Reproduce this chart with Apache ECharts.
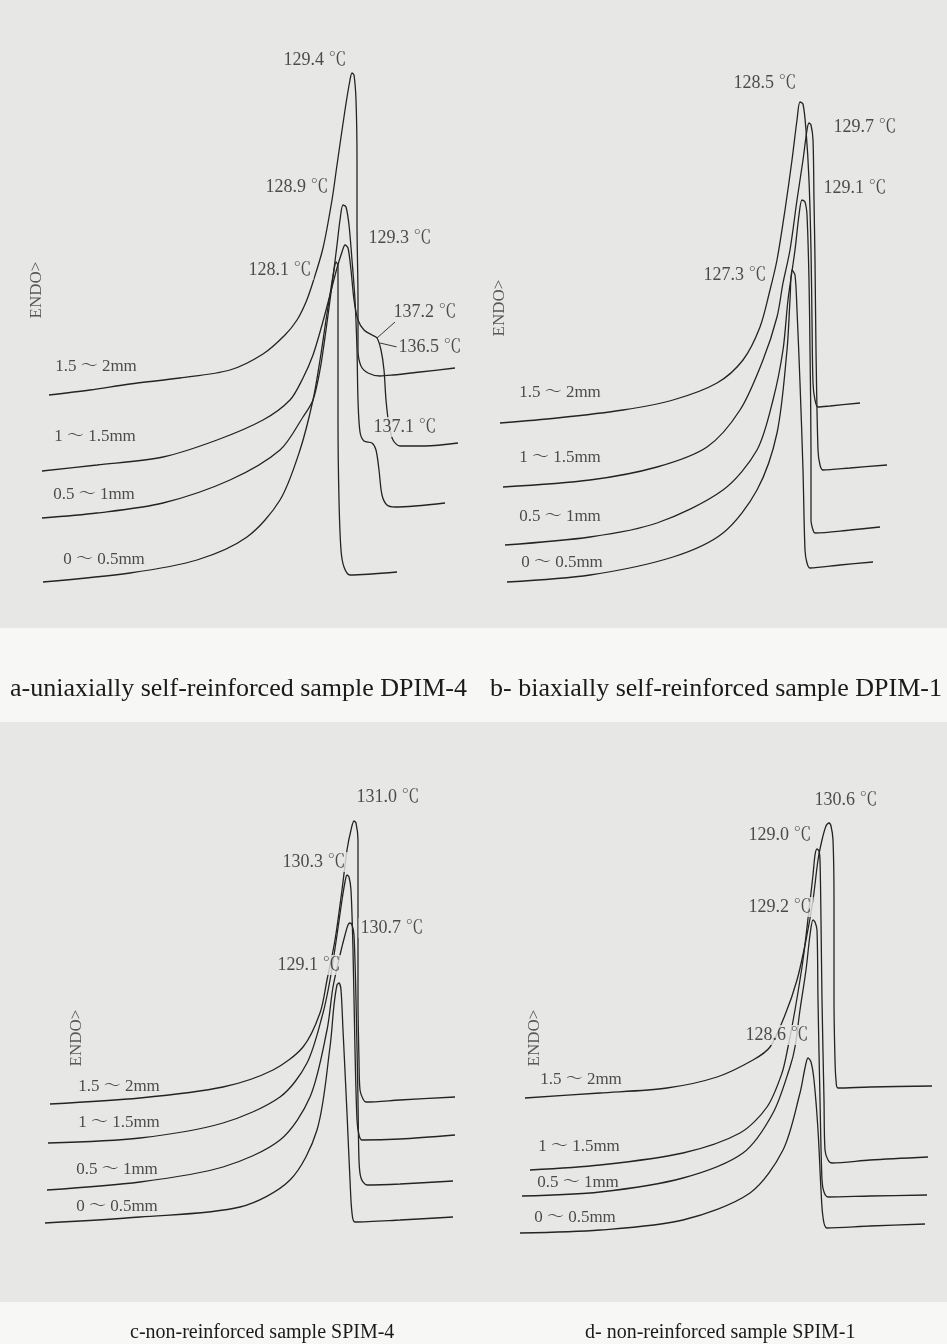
<!DOCTYPE html>
<html>
<head>
<meta charset="utf-8">
<script src="https://cdn.jsdelivr.net/npm/echarts@6/dist/echarts.min.js"></script>
<style>
html,body{margin:0;padding:0;background:#f7f7f5;}
#chart{width:947px;height:1344px;}
</style>
</head>
<body>
<div id="chart"></div>
<script>
// ---------- DATA (x: temperature, deg C ; y: heat flow, arbitrary, ENDO up) ----------
// Panel a - uniaxially self-reinforced sample DPIM-4
const a_15_2mm = [[44.75,20.5],[55,21],[65,21.6],[77.5,22.2],[90,23],[98.25,24.6],[103.75,26.5],[106.75,28],[109,29.8],[110.75,31.8],[113.25,35.2],[115.5,40],[116.75,43.5],[118.75,49],[120,52],[120.5,52.7],[121,52.5],[121.5,50],[121.75,44],[121.75,37.8],[122,30],[122,25],[122.75,23.4],[124.5,22.7],[127.5,22.4],[130.75,22.5],[137.5,22.8],[146.25,23.2]];
const a_1_15mm = [[43,12.9],[56.75,13.5],[73.25,14.3],[86.75,16],[98.25,18],[105,20],[108.25,22.2],[110.75,24.5],[113,27.5],[115,30.5],[116.75,33.2],[118,34.8],[118.75,35.5],[119.5,35.2],[120.25,33],[121,30],[122,28],[123.5,27],[125.5,26.5],[126.75,26.2],[127.75,25],[128.5,23],[129,20],[129.75,17.5],[130.75,16],[132.5,15.4],[138.75,15.4],[147,15.7]];
const a_05_1mm = [[43,8.2],[56.75,8.7],[73.25,9.7],[90,12],[102.5,15],[108.25,18.3],[110.75,20],[112.5,23],[114,27],[115.5,31.5],[116.75,35.5],[117.5,38],[118.25,39.5],[119,39.3],[119.75,37.5],[120.5,34],[121.25,30],[121.75,25],[122,20],[122.5,16.8],[123.5,15.9],[125.5,15.7],[126.5,15],[127.25,13],[128,10.5],[129.25,9.5],[131.25,9.3],[143.75,9.7]];
const a_0_05mm = [[43.25,1.8],[65,2.7],[81.75,4],[94.25,6.3],[102.5,10],[107.5,15],[110.75,20],[112.5,24],[114,28],[115.25,31.2],[116,33],[116.5,33.8],[117,33.4],[117,30],[117,18],[117.25,10],[117.75,5],[118.5,3.3],[120,2.5],[131.75,2.8]];
const a_labels = [['129.4 ℃',111.25,54.0],['128.9 ℃',106.75,41.3],['129.3 ℃',132.5,36.2],['128.1 ℃',102.5,33.0],['137.2 ℃',138.75,28.8],['136.5 ℃',140.0,25.3],['137.1 ℃',133.75,17.3]];
const a_leaders = [[[131.25,27.8],[126.75,26.2]],[[131.75,25.3],[127.5,25.7]]];
const a_sizes = [['1.5 ～ 2mm',56.5,23.3],['1 ～ 1.5mm',56.25,16.3],['0.5 ～ 1mm',56.0,10.5],['0 ～ 0.5mm',58.5,4.0]];
const a_endo = [41.75,31.0];

// Panel b - biaxially self-reinforced sample DPIM-1
const b_15_2mm = [[42.5,17.7],[56.75,18.2],[73.25,19],[85.75,20],[96.75,21.7],[103.25,24],[107.5,27.3],[110,31],[111.75,34],[113.75,39],[115.5,44],[116.75,48],[117.5,49.8],[118.25,49.6],[119,47],[119.75,42],[120.25,35],[120.5,28],[120.75,21.7],[121.25,20],[122,19.3],[125,19.4],[132.5,19.7]];
const b_1_15mm = [[43.25,11.3],[65,12],[81.75,13.3],[94.25,15.3],[102.5,19],[108.25,24],[111.75,28.3],[113.25,31.7],[115,35],[116.75,40],[118.25,44],[119.25,47],[119.75,47.7],[120.25,47.5],[120.75,46],[121,40],[121.25,34],[121.5,25],[122,15],[122.5,13.5],[123.25,13],[130,13.2],[139.25,13.5]];
const b_05_1mm = [[43.75,5.5],[65,6.3],[81.75,7.7],[98.25,11],[106.75,15],[110.75,20],[113.25,25],[114.5,30],[116.25,35],[117.25,38.5],[118,40],[118.75,39.8],[119.25,38.5],[119.75,32],[120,25],[120.25,15],[120.25,8],[120.75,7],[121.25,6.7],[130,7],[137.5,7.3]];
const b_0_05mm = [[44.25,1.8],[65,2.5],[85.75,4.3],[98.25,6.7],[106.75,11],[111.75,16.7],[114.25,25],[115,30],[115.5,33],[116.25,32.5],[116.75,29],[117.5,21.7],[118.25,13],[118.75,5],[119.25,3.7],[120,3.2],[127.5,3.5],[135.75,3.8]];
const b_labels = [['128.5 ℃',108.75,51.7],['129.7 ℃',133.75,47.3],['129.1 ℃',131.25,41.2],['127.3 ℃',101.25,32.5]];
const b_sizes = [['1.5 ～ 2mm',57.5,20.7],['1 ～ 1.5mm',57.5,14.2],['0.5 ～ 1mm',57.5,8.3],['0 ～ 0.5mm',58.0,3.7]];
const b_endo = [42.5,29.2];

// Panel c - non-reinforced sample SPIM-4
const c_15_2mm = [[45,17.6],[67.5,18.2],[88.25,19.3],[100.75,21],[108.25,23.3],[112.5,26.7],[114.25,30],[116.25,34],[118,39],[119.25,43],[120.25,45],[121,45.9],[121.5,45.7],[122,44],[122,38],[122,28],[122.25,22],[122.5,19],[123.25,18.1],[124,17.8],[132.5,18],[146.25,18.3]];
const c_1_15mm = [[44.5,13.7],[67.5,14.2],[88.25,15.7],[102.5,18.3],[109.25,21.7],[113.25,26.7],[115,30],[116.75,34.5],[118,38],[118.75,39.8],[119.25,40.5],[119.75,40.3],[120.25,39],[120.75,33],[121.25,23],[121.75,16],[122.25,14.5],[123,14],[132.5,14.1],[146.25,14.5]];
const c_05_1mm = [[44.25,9],[67.5,9.8],[88.25,11.3],[102.5,14],[110,18.3],[114.25,25],[115.75,29.3],[117.5,32.5],[118.75,34.5],[119.5,35.5],[120,35.7],[120.5,35.5],[121,34.5],[121.5,28],[122,18],[122.25,12],[122.75,10.2],[124.25,9.5],[132.5,9.6],[145.75,9.9]];
const c_0_05mm = [[43.75,5.7],[67.5,6.3],[92.5,7.3],[105,10],[111.75,15],[115,23.3],[116,27.5],[116.75,29.5],[117.25,29.7],[117.75,29],[118.25,25],[119.25,16.7],[120,10],[120.5,6.7],[121.25,5.8],[132.5,6],[145.75,6.3]];
const c_labels = [['131.0 ℃',129.5,48.3],['130.3 ℃',111.0,41.8],['130.7 ℃',130.5,35.2],['129.1 ℃',109.75,31.5]];
const c_sizes = [['1.5 ～ 2mm',62.25,19.3],['1 ～ 1.5mm',62.25,15.7],['0.5 ～ 1mm',61.75,11.0],['0 ～ 0.5mm',61.75,7.3]];
const c_endo = [51.75,24.2];

// Panel d - non-reinforced sample SPIM-1
const d_15_2mm = [[48.75,18.2],[67.5,18.7],[84.25,19.2],[96.75,20.3],[105.75,22],[110,23.3],[113.75,26.5],[116.75,30],[119,34],[120.75,38],[122,42],[123,44],[124,45.4],[124.75,45.7],[125.25,45.4],[125.75,44],[126,38],[126,28],[126.25,22],[126.5,20],[127,19.2],[135,19.3],[150.5,19.4]];
const d_1_15mm = [[50,11],[67.5,11.5],[88.25,12.7],[102.5,14.7],[109.25,17.3],[113,20.7],[114.5,23.3],[116.25,27],[118.25,32],[119.75,37],[120.75,40.5],[121.25,42.5],[121.75,43.1],[122.25,42.9],[122.5,42],[122.75,36],[123,28],[123.5,18],[123.75,13],[124.5,12],[125.5,11.7],[135,12],[149.5,12.3]];
const d_05_1mm = [[48,8.4],[67.5,8.8],[88.25,10.2],[103.25,12.7],[110.75,16.7],[115,21.3],[116.25,23.3],[117.5,27],[119,31],[120,34.5],[120.75,36],[121.25,35.8],[121.75,35],[122,28],[122.5,18],[123,10],[123.5,8.8],[124.5,8.3],[135,8.4],[149.25,8.5]];
const d_0_05mm = [[47.5,4.7],[67.5,5],[88.25,6],[105,8.7],[113.25,13],[117.5,18.7],[118.75,21.2],[119.5,22.2],[120.25,21.8],[121,20],[122,15],[122.75,9],[123.25,6.3],[124.25,5.2],[135,5.4],[148.75,5.6]];
const d_labels = [['130.6 ℃',129.0,48.0],['129.0 ℃',112.5,44.5],['129.2 ℃',112.5,37.3],['128.6 ℃',111.75,24.5]];
const d_sizes = [['1.5 ～ 2mm',62.75,20.0],['1 ～ 1.5mm',62.25,13.3],['0.5 ～ 1mm',62.0,9.7],['0 ～ 0.5mm',61.25,6.2]];
const d_endo = [51.25,24.2];

const captions = ['a-uniaxially self-reinforced sample DPIM-4','b- biaxially self-reinforced sample DPIM-1','c-non-reinforced sample SPIM-4','d- non-reinforced sample SPIM-1'];

// ---------- CHART ----------
const FONT = "'Liberation Serif','Times New Roman','Noto Serif CJK SC','Noto Sans CJK SC',serif";
const INK = '#242424';
const PAPER = '#e7e7e5';
const chart = echarts.init(document.getElementById('chart'), null, {renderer:'canvas'});

const grids = [
  {left:30, top:40, width:448, height:560},
  {left:490, top:40, width:448, height:560},
  {left:30, top:760, width:448, height:520},
  {left:490, top:760, width:448, height:520}
];
const yMax = [56,56,52,52];
const xAxes = grids.map((g,i)=>({type:'value', gridIndex:i, min:40, max:152, show:false}));
const yAxes = grids.map((g,i)=>({type:'value', gridIndex:i, min:0, max:yMax[i], show:false}));

function curve(data, i){
  return {type:'line', xAxisIndex:i, yAxisIndex:i, data:data, showSymbol:false, symbol:'none',
    smooth:0.3, silent:true, z:3,
    lineStyle:{color:INK, width:1.3}};
}
function leader(data, i){
  return {type:'line', xAxisIndex:i, yAxisIndex:i, data:data, showSymbol:false, symbol:'none',
    silent:true, z:3, lineStyle:{color:INK, width:0.9}};
}
function texts(list, i, size, masked){
  const lab = {show:true, position:'inside', formatter:p=>p.name, color:'#242424',
      fontFamily:FONT, fontSize:size};
  if (masked){ lab.backgroundColor = PAPER; lab.padding = [1,2]; }
  return {type:'scatter', xAxisIndex:i, yAxisIndex:i, silent:true, z:4,
    symbolSize:0.1, itemStyle:{color:'rgba(0,0,0,0)'},
    data:list.map(l=>({value:[l[1],l[2]], name:l[0]})),
    label:lab};
}
function endo(pt, i){
  return {type:'scatter', xAxisIndex:i, yAxisIndex:i, silent:true, z:4,
    symbolSize:0.1, itemStyle:{color:'rgba(0,0,0,0)'},
    data:[{value:pt, name:'ENDO>'}],
    label:{show:true, position:'inside', formatter:'ENDO>', rotate:90, color:'#333',
      fontFamily:FONT, fontSize:17}};
}

const series = [
  curve(a_15_2mm,0), curve(a_1_15mm,0), curve(a_05_1mm,0), curve(a_0_05mm,0),
  leader(a_leaders[0],0), leader(a_leaders[1],0),
  texts(a_labels,0,18,true), texts(a_sizes,0,17,false), endo(a_endo,0),
  curve(b_15_2mm,1), curve(b_1_15mm,1), curve(b_05_1mm,1), curve(b_0_05mm,1),
  texts(b_labels,1,18,true), texts(b_sizes,1,17,false), endo(b_endo,1),
  curve(c_15_2mm,2), curve(c_1_15mm,2), curve(c_05_1mm,2), curve(c_0_05mm,2),
  texts(c_labels,2,18,true), texts(c_sizes,2,17,false), endo(c_endo,2),
  curve(d_15_2mm,3), curve(d_1_15mm,3), curve(d_05_1mm,3), curve(d_0_05mm,3),
  texts(d_labels,3,18,true), texts(d_sizes,3,17,false), endo(d_endo,3)
];

const capTop = {fontFamily:FONT, fontSize:26, fontWeight:'normal', color:'#1a1a1a'};
const capBot = {fontFamily:FONT, fontSize:20, fontWeight:'normal', color:'#1a1a1a'};
chart.setOption({
  animation:false,
  backgroundColor:'#f7f7f5',
  graphic:[
    {type:'rect', z:-10, shape:{x:0, y:0, width:947, height:628}, style:{fill:PAPER}},
    {type:'rect', z:-10, shape:{x:0, y:722, width:947, height:580}, style:{fill:PAPER}}
  ],
  title:[
    {text:captions[0], left:5, top:671, textStyle:capTop},
    {text:captions[1], left:485, top:671, textStyle:capTop},
    {text:captions[2], left:125, top:1318, textStyle:capBot},
    {text:captions[3], left:580, top:1318, textStyle:capBot}
  ],
  grid:grids,
  xAxis:xAxes,
  yAxis:yAxes,
  series:series
});
</script>
</body>
</html>
